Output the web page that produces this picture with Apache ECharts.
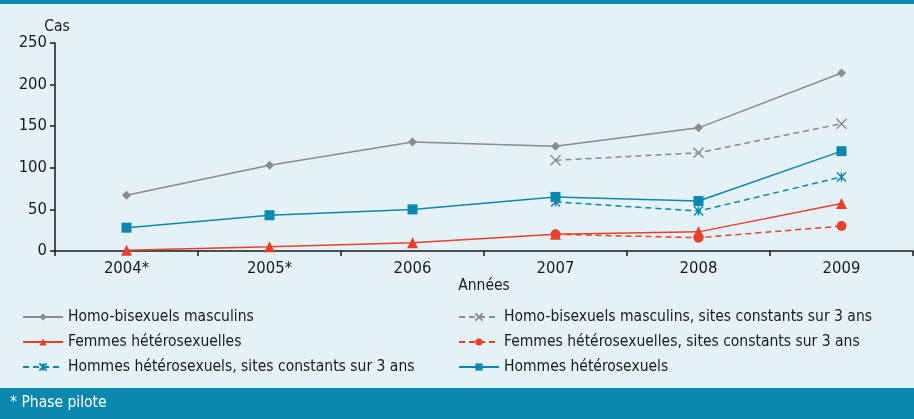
<!DOCTYPE html>
<html>
<head>
<meta charset="utf-8">
<script src="https://cdn.jsdelivr.net/npm/echarts@6/dist/echarts.min.js"></script>
<style>
  html, body { margin: 0; padding: 0; background: #e4f1f7; }
  #chart { width: 914px; height: 419px; }
</style>
</head>
<body>
<div id="chart"></div>
<script>
var years = ['2004*', '2005*', '2006', '2007', '2008', '2009'];
var yTicks = [0, 50, 100, 150, 200, 250];

// séries complètes
var homoBi = [67, 103, 131, 126, 148, 214];
var femmesHetero = [1, 5, 10, 20, 23, 57];
var hommesHetero = [28, 43, 50, 65, 60, 120];
// sites constants sur 3 ans
var homoBiConst = [null, null, null, 109, 118, 153];
var femmesConst = [null, null, null, 20, 16, 30];
var hommesConst = [null, null, null, 59, 48, 89];

var GREY = '#8c8c8c';
var RED = '#e8412b';
var BLUE = '#0b88ae';
var TEAL = '#0a88ad';
var FONT = '"Liberation Sans Narrow", "DejaVu Sans Condensed", "Open Sans", sans-serif';

var crossPath = 'path://M0,0L10,10M10,0L0,10';
var starPath = 'path://M0,0L10,10M10,0L0,10M5,0L5,10';

function solid(name, data, color, symbol, size) {
    return {
        name: name, type: 'line', data: data,
        symbol: symbol, symbolSize: size,
        lineStyle: { color: color, width: 1.5 },
        itemStyle: { color: color },
        z: 3
    };
}

function dashed(name, data, color, symbol, size, stroked) {
    return {
        name: name, type: 'line', data: data,
        symbol: symbol, symbolSize: size,
        lineStyle: { color: color, width: 1.5, type: [6, 4] },
        itemStyle: stroked
            ? { color: 'rgba(0,0,0,0)', borderColor: color, borderWidth: 1.5 }
            : { color: color },
        z: 2
    };
}

var chart = echarts.init(document.getElementById('chart'));

var legendText = { fontSize: 15.5, color: '#1a1a1a', fontFamily: FONT };

var option = {
    backgroundColor: '#e4f1f7',
    animation: false,
    textStyle: { fontFamily: FONT },
    graphic: [
        { type: 'rect', shape: { x: 0, y: 0, width: 914, height: 4 }, style: { fill: TEAL } },
        { type: 'rect', shape: { x: 0, y: 388, width: 914, height: 31 }, style: { fill: TEAL } },
        {
            type: 'text', left: 10, top: 395,
            style: { text: '* Phase pilote', fill: '#fff', font: '15.5px ' + FONT }
        }
    ],
    grid: { left: 55, right: 1, top: 43, bottom: 168 },
    legend: [
        {
            orient: 'vertical', left: 17, top: 304, itemGap: 9,
            itemWidth: 40, itemHeight: 9,
            textStyle: legendText,
            data: ['Homo-bisexuels masculins', 'Femmes hétérosexuelles',
                   'Hommes hétérosexuels, sites constants sur 3 ans']
        },
        {
            orient: 'vertical', left: 453, top: 304, itemGap: 9,
            itemWidth: 40, itemHeight: 9,
            textStyle: legendText,
            data: ['Homo-bisexuels masculins, sites constants sur 3 ans',
                   'Femmes hétérosexuelles, sites constants sur 3 ans',
                   'Hommes hétérosexuels']
        }
    ],
    xAxis: {
        type: 'category',
        data: years,
        boundaryGap: true,
        name: 'Années',
        nameLocation: 'middle',
        nameGap: 27,
        nameTextStyle: { fontSize: 15.5, color: '#1a1a1a' },
        axisLine: { lineStyle: { color: '#1a1a1a', width: 1.5 } },
        axisTick: { show: true, length: 5, lineStyle: { color: '#1a1a1a', width: 1.5 } },
        axisLabel: { fontSize: 16.5, color: '#1a1a1a', margin: 9 }
    },
    yAxis: {
        type: 'value',
        min: yTicks[0],
        max: yTicks[yTicks.length - 1],
        interval: 50,
        name: 'Cas',
        nameGap: 7,
        nameTextStyle: { fontSize: 15.5, color: '#1a1a1a', align: 'center', padding: [0, 0, 0, 4] },
        axisLine: { show: true, lineStyle: { color: '#1a1a1a', width: 1.5 } },
        axisTick: { show: true, length: 5, lineStyle: { color: '#1a1a1a', width: 1.5 } },
        axisLabel: { fontSize: 16.5, color: '#1a1a1a', margin: 8 },
        splitLine: { show: false }
    },
    series: [
        dashed('Homo-bisexuels masculins, sites constants sur 3 ans', homoBiConst, GREY, crossPath, 10, true),
        dashed('Femmes hétérosexuelles, sites constants sur 3 ans', femmesConst, RED, 'circle', 10, false),
        dashed('Hommes hétérosexuels, sites constants sur 3 ans', hommesConst, BLUE, starPath, 9, true),
        solid('Homo-bisexuels masculins', homoBi, GREY, 'diamond', 9),
        solid('Femmes hétérosexuelles', femmesHetero, RED, 'triangle', 11),
        solid('Hommes hétérosexuels', hommesHetero, BLUE, 'rect', 10)
    ]
};

chart.setOption(option);
</script>
</body>
</html>
